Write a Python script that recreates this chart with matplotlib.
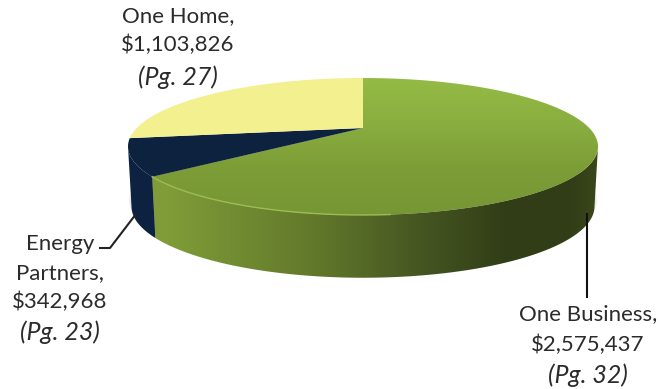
import numpy as np
import matplotlib
matplotlib.use("Agg")
import matplotlib.pyplot as plt
from matplotlib.colors import LinearSegmentedColormap
from matplotlib.patches import Polygon

# Pie values, clockwise from 12 o'clock
names = ["One Business", "Energy Partners", "One Home"]
values = [2575437, 342968, 1103826]
pages = [32, 23, 27]

# Pie geometry, in image pixels
CX, CY = 363, 146.5
RX, RY = 235, 68.5
TILT = 0.27  # how far the apex sits above the centre of the ellipse
DEPTH = 60
BOTTOM_X = 0.985
BOTTOM_Y = 1.04

plt.rcParams["font.family"] = ["Lato", "DejaVu Sans"]
FS = 16
FS_PAGE = 18
TEXT = "#2b2b2b"

# Angles (clockwise from top) where the rim is widest left and right
SIDE_R = np.degrees(np.arccos(-TILT))
SIDE_L = 360 - SIDE_R


def rim(a0, a1, dy=0.0, sx=1.0, sy=1.0, n=200):
    """Points on the pie rim between two clockwise angles (degrees from top)."""
    t = np.radians(np.linspace(a0, a1, n))
    x, y = np.sin(t), np.cos(t)
    den = 1 + TILT * y
    xp = x * np.sqrt(1 - TILT**2) / den
    yp = (y + TILT) / den
    return np.column_stack([CX + RX * sx * xp, CY - RY * sy * yp + dy])


def wall(a0, a1):
    return np.vstack([rim(a0, a1), rim(a0, a1, DEPTH, BOTTOM_X, BOTTOM_Y)[::-1]])


def apex():
    return np.array([[CX, CY - RY * TILT]])


def gradient(ax, clip, colors, extent, horizontal, zorder):
    cmap = LinearSegmentedColormap.from_list("g", colors)
    ramp = np.linspace(0, 1, 256)
    ramp = ramp.reshape(1, -1) if horizontal else ramp.reshape(-1, 1)
    im = ax.imshow(ramp, cmap=cmap, extent=extent, aspect="auto", zorder=zorder,
                   interpolation="bilinear")
    im.set_clip_path(clip)


fig = plt.figure(figsize=(6.58, 3.89), dpi=100)
ax = fig.add_axes([0, 0, 1, 1])

shares = np.array(values) / sum(values)
edges = np.concatenate([[0], np.cumsum(shares) * 360])

# Soft shadow under the pie
base = rim(0, 360, DEPTH, BOTTOM_X, BOTTOM_Y)
for grow, alpha in zip([1.012, 1.008, 1.004, 1.0], [0.05, 0.07, 0.09, 0.12]):
    pts = base.copy()
    pts[:, 0] = CX + (pts[:, 0] - CX) * grow
    pts[:, 1] = pts[:, 1].mean() + (pts[:, 1] - pts[:, 1].mean()) * grow - 6
    ax.add_patch(Polygon(pts, closed=True, fc="#555555", ec="none", alpha=alpha, zorder=1))

# Side walls: green from the right edge round to the navy wedge, then navy
patch = Polygon(wall(SIDE_R, edges[1]), closed=True, fc="none", ec="none", zorder=2)
ax.add_patch(patch)
gradient(ax, patch,
         [(0.0, "#819f39"), (0.10, "#7f9c38"), (0.40, "#62792b"), (0.62, "#465722"),
          (0.80, "#323e17"), (0.94, "#313d17"), (1.0, "#3a481b")],
         (120, 600, 290, 140), True, 2)

ax.add_patch(Polygon(wall(edges[1], SIDE_L), closed=True, fc="#0c2240", ec="none", zorder=2))

# Top faces
green_top = np.vstack([apex(), rim(edges[0], edges[1])])
patch = Polygon(green_top, closed=True, fc="none", ec="none", zorder=3)
ax.add_patch(patch)
gradient(ax, patch, ["#95bc45", "#8aae40", "#7b9c36", "#769634"], (120, 610, 220, 75), False, 3)

navy_top = np.vstack([apex(), rim(edges[1], edges[2])])
ax.add_patch(Polygon(navy_top, closed=True, fc="#0d223f", ec="none", zorder=3))

yellow_top = np.vstack([apex(), rim(edges[2], edges[3])])
ax.add_patch(Polygon(yellow_top, closed=True, fc="#f3f08f", ec="none", zorder=3))

# Light rim on the front left of the green face
front = rim(175, edges[1])
ax.plot(front[:, 0], front[:, 1], color="#9dbd52", lw=1.0, zorder=4)

# Leader lines
ax.plot([100, 110, 136], [248, 248, 214], color="#222222", lw=1.5, zorder=5)
ax.plot([587, 587], [214, 297], color="#111111", lw=1.5, zorder=5)

# Labels
label_style = dict(ha="center", va="center", color=TEXT, zorder=6)
ax.text(178, 16, f"{names[2]},", fontsize=FS, **label_style)
ax.text(178, 45, f"${values[2]:,}", fontsize=FS, **label_style)
ax.text(178, 77, f"(Pg. {pages[2]})", style="italic", fontsize=FS_PAGE, **label_style)

ax.text(60, 244, names[1].split()[0], fontsize=FS, **label_style)
ax.text(60, 273, f"{names[1].split()[1]},", fontsize=FS, **label_style)
ax.text(60, 302, f"${values[1]:,}", fontsize=FS, **label_style)
ax.text(60, 332, f"(Pg. {pages[1]})", style="italic", fontsize=FS_PAGE, **label_style)

ax.text(588, 314, f"{names[0]},", fontsize=FS, **label_style)
ax.text(588, 345, f"${values[0]:,}", fontsize=FS, **label_style)
ax.text(588, 375, f"(Pg. {pages[0]})", style="italic", fontsize=FS_PAGE, **label_style)

ax.set_xlim(0, 658)
ax.set_ylim(389, 0)
ax.axis("off")

fig.savefig("out.png", dpi=100, facecolor="white")
